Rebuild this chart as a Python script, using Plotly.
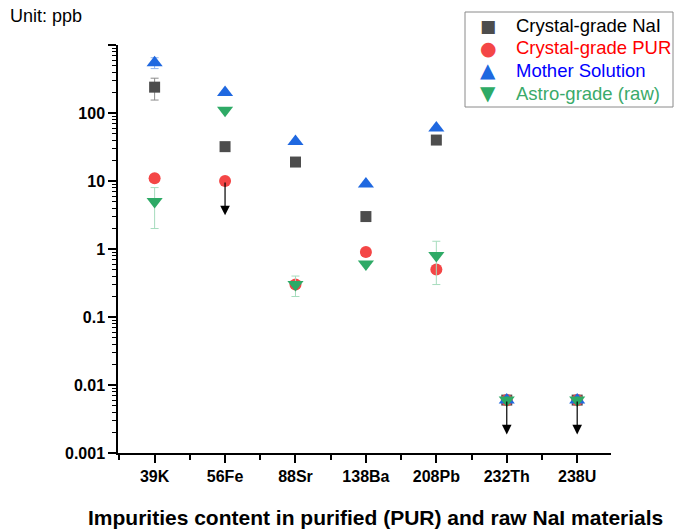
import math
import plotly.graph_objects as go

categories = ["39K", "56Fe", "88Sr", "138Ba", "208Pb", "232Th", "238U"]

crystal_nai = [240, 32, 19, 3, 40, 0.006, 0.006]
crystal_nai_err_plus = [85, 0, 0, 0, 0, 0, 0]
crystal_nai_err_minus = [85, 0, 0, 0, 0, 0, 0]

crystal_pur = [11, 10, 0.3, 0.9, 0.5, 0.006, 0.006]

mother_solution = [550, 200, 38, 9, 60, 0.006, 0.006]
mother_err_plus = [100, 0, 0, 0, 0, 0, 0]
mother_err_minus = [100, 0, 0, 0, 0, 0, 0]

astro_raw = [5, 110, 0.3, 0.6, 0.8, 0.006, 0.006]
astro_err_plus = [3, 0, 0.1, 0, 0.5, 0, 0]
astro_err_minus = [3, 0, 0.1, 0, 0.5, 0, 0]

# upper limits (value at which a downward arrow starts)
upper_limit_idx = [1, 5, 6]
upper_limit_val = [10, 0.006, 0.006]
arrow_factor = 3.2

y_tickvals = [0.001, 0.01, 0.1, 1, 10, 100, 1000]
y_ticktext = ["0.001", "0.01", "0.1", "1", "10", "100", ""]

series_names = ["Crystal-grade NaI", "Crystal-grade PUR", "Mother Solution", "Astro-grade (raw)"]
series_colors = ["#4d4d4d", "#f44646", "#1f68e0", "#2eaa66"]
legend_text_colors = ["#000000", "#ff0000", "#0000ff", "#3aaa6a"]
legend_glyphs = ["\u25A0", "\u25CF", "\u25B2", "\u25BC"]
legend_glyph_sizes = [17, 19, 20, 20]

xpos = list(range(1, len(categories) + 1))

W, H = 674, 529
L, R, T, B = 118, 63, 45, 76
PW, PH = W - L - R, H - T - B


def px(x):
    return (x - L) / PW


def py(y):
    return (H - B - y) / PH


fig = go.Figure()


def eb(plus, minus, color):
    return dict(type="data", symmetric=False, array=plus, arrayminus=minus,
                color=color, thickness=1, width=4)


fig.add_trace(go.Scatter(
    x=xpos, y=crystal_nai, mode="markers", name=series_names[0],
    marker=dict(symbol="square", size=11, color=series_colors[0]),
    error_y=eb(crystal_nai_err_plus, crystal_nai_err_minus, "#8c8c8c")))
fig.add_trace(go.Scatter(
    x=xpos, y=crystal_pur, mode="markers", name=series_names[1],
    marker=dict(symbol="circle", size=12, color=series_colors[1])))
fig.add_trace(go.Scatter(
    x=xpos, y=mother_solution, mode="markers", name=series_names[2],
    marker=dict(symbol="triangle-up", size=14, color=series_colors[2]),
    error_y=eb(mother_err_plus, mother_err_minus, "#8fb4ef")))
fig.add_trace(go.Scatter(
    x=xpos, y=astro_raw, mode="markers", name=series_names[3],
    marker=dict(symbol="triangle-down", size=14, color=series_colors[3]),
    error_y=eb(astro_err_plus, astro_err_minus, "#a6dcbd")))

for i, v in zip(upper_limit_idx, upper_limit_val):
    fig.add_annotation(
        x=xpos[i], y=math.log10(v / arrow_factor),
        ax=xpos[i], ay=math.log10(v),
        xref="x", yref="y", axref="x", ayref="y",
        text="", showarrow=True, arrowhead=2, arrowsize=1.6,
        arrowwidth=1.2, arrowcolor="#000000")

fig.add_annotation(
    text="Unit: ppb", xref="paper", yref="paper",
    x=px(8), y=py(16), xanchor="left", yanchor="middle", showarrow=False,
    font=dict(family="Liberation Sans, Arial", size=18, color="#000000"))
fig.add_annotation(
    text="<b>Impurities content in purified (PUR) and raw NaI materials</b>",
    xref="paper", yref="paper", x=px(375), y=py(517), showarrow=False,
    xanchor="center", yanchor="middle",
    font=dict(family="Liberation Sans, Arial", size=21, color="#000000"))

# legend (drawn manually to match the boxed layout)
fig.add_shape(type="rect", xref="paper", yref="paper",
              x0=px(465), x1=px(673), y0=py(107), y1=py(12),
              line=dict(color="#8a8a8a", width=1), fillcolor="white",
              layer="above")
row_y = [26, 48, 70, 93]
for k in range(4):
    fig.add_annotation(
        text=legend_glyphs[k], xref="paper", yref="paper",
        x=px(488), y=py(row_y[k]), xanchor="center", yanchor="middle",
        showarrow=False,
        font=dict(family="DejaVu Sans", size=legend_glyph_sizes[k],
                  color=series_colors[k]))
    fig.add_annotation(
        text=series_names[k], xref="paper", yref="paper",
        x=px(514), y=py(row_y[k]), xanchor="left", yanchor="middle",
        showarrow=False,
        font=dict(family="Liberation Sans, Arial", size=18.5,
                  color=legend_text_colors[k]))

fig.update_layout(
    width=W, height=H,
    margin=dict(l=L, r=R, t=T, b=B, autoexpand=False),
    paper_bgcolor="white", plot_bgcolor="white",
    font=dict(family="Liberation Sans, Arial", size=16, color="#000000"),
    showlegend=False,
    xaxis=dict(range=[0.48, 7.48], tickvals=xpos,
               ticktext=["<b>%s</b>" % c for c in categories],
               tickangle=0,
               showgrid=False, zeroline=False, showline=True,
               linecolor="#000000", linewidth=1.5,
               ticks="outside", ticklen=8, tickwidth=1.5, tickcolor="#000000",
               tickfont=dict(size=16, family="Liberation Sans, Arial"),
               minor=dict(tick0=0.5, dtick=1, ticks="outside", ticklen=5,
                          tickwidth=1.5, tickcolor="#000000")),
    yaxis=dict(type="log", range=[-3, 3], tickvals=y_tickvals,
               ticktext=["<b>%s</b>" % t if t else "" for t in y_ticktext],
               showgrid=False, zeroline=False, showline=True,
               linecolor="#000000", linewidth=1.5,
               ticks="outside", ticklen=8, tickwidth=1.5, tickcolor="#000000",
               tickfont=dict(size=16, family="Liberation Sans, Arial"),
               minor=dict(ticks="outside", ticklen=4, tickwidth=1,
                          tickcolor="#000000", dtick="D1")),
)

fig.write_html("out.html")
